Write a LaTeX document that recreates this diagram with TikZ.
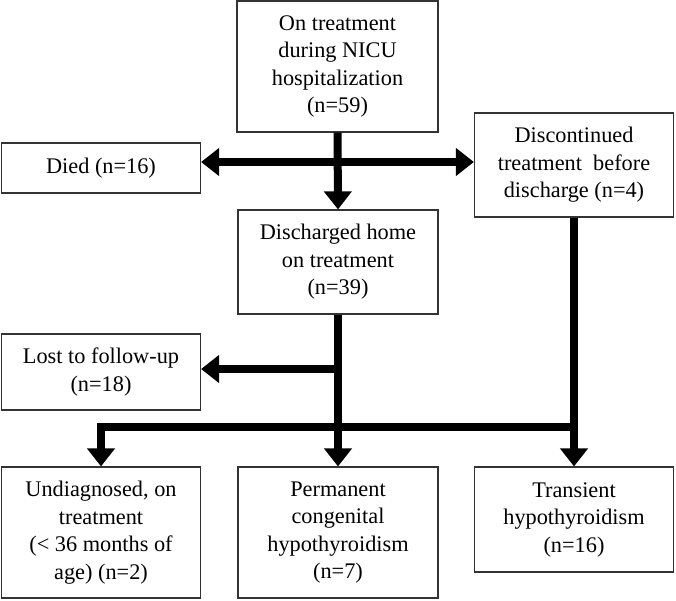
\documentclass[tikz,border=0pt]{standalone}
\usepackage{fontspec}
\setmainfont{Liberation Serif}
\usetikzlibrary{arrows.meta,calc}
\begin{document}
\begin{tikzpicture}[x=1pt,y=-1pt,
  box/.style={draw=black!80,line width=1.2pt,rectangle,inner sep=0pt,align=center,
    font=\fontsize{22.3}{27.5}\selectfont},
  flow/.style={line width=8pt,-{Triangle[width=27pt,length=18pt]}},
  flowline/.style={line width=8pt,line join=miter}]
\useasboundingbox (0,0) rectangle (676,600);
\node[box,minimum width=201pt,minimum height=131pt] (top) at (337.5,66.5)
  {On treatment\\during NICU\\hospitalization\\(n=59)};
\node[box,minimum width=199pt,minimum height=50pt] (died) at (101,168) {Died (n=16)};
\node[box,minimum width=199pt,minimum height=104pt] (disc) at (574,165)
  {Discontinued\\treatment\ \ before\\discharge (n=4)};
\node[box,minimum width=200pt,minimum height=104pt] (home) at (338,262)
  {Discharged home\\on treatment\\(n=39)};
\node[box,minimum width=199pt,minimum height=76pt] (lost) at (101,372)
  {Lost to follow-up\\(n=18)};
\node[box,minimum width=199pt,minimum height=131pt] (undiag) at (101,532.5)
  {Undiagnosed, on\\treatment\\(< 36 months of\\age) (n=2)};
\node[box,minimum width=200pt,minimum height=131pt] (perm) at (338,532.5)
  {Permanent\\congenital\\hypothyroidism\\(n=7)};
\node[box,minimum width=199pt,minimum height=105pt] (trans) at (574,519.5)
  {Transient\\hypothyroidism\\(n=16)};
\coordinate (hy) at (338,162);
\coordinate (ly) at (338,369);
\coordinate (by) at (338,427);
% top to discharged
\draw[flow] (top.south) -- (home.north);
% died / discontinued
\draw[line width=8pt,{Triangle[width=27pt,length=18pt]}-{Triangle[width=27pt,length=18pt]}]
  (hy -| died.east) -- (hy -| disc.west);
% discharged down
\draw[flow] (home.south) -- (perm.north);
\draw[flow] (ly) -- (ly -| lost.east);
% bottom bar
\draw[flowline] (disc.south) -- (by -| disc.south);
\draw[flow] (by -| disc.south) -- (trans.north);
\draw[flowline] ($(by -| disc.south)+(4,0)$) -- (by -| undiag.north) -- ++(0,4);
\draw[flow] ($(by -| undiag.north)+(0,-4)$) -- (undiag.north);
\end{tikzpicture}
\end{document}
